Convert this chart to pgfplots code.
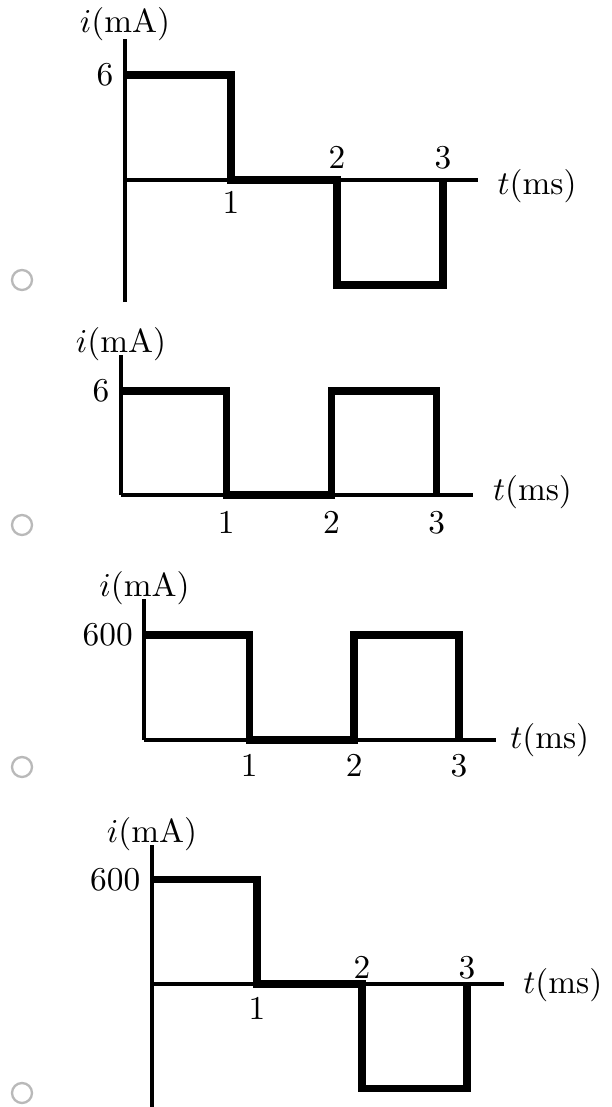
\documentclass[border=0pt]{standalone}
\usepackage{pgfplots}
\pgfplotsset{compat=1.18}
\pgfplotsset{
  wave/.style={
    axis lines=middle,
    axis line style={-, line width=1.2pt, black},
    every inner x axis line/.append style={-},
    every inner y axis line/.append style={-},
    major tick length=0pt,
    xmin=0, clip=false,
    anchor=south west,
    tick label style={font=\normalsize, black},
  },
  sig/.style={black, line width=2.2pt, line join=miter},
}
\begin{document}
\begin{tikzpicture}
\path[use as bounding box] (0,0) rectangle (183.3pt,-332.1pt);

% radio buttons
\foreach \yy in {-84pt,-157.5pt,-230.1pt,-327.9pt}{
  \draw[gray!55, line width=0.7pt, fill=white] (6.6pt,\yy) circle (3pt);
}

% Panel 1
\begin{axis}[wave, at={(37.5pt,-90.6pt)}, x=31.8pt, y=5.25pt,
  xmax=3.33, ymin=-6.97, ymax=8.06, ytick={6}, xtick={1},
  extra x ticks={2,3},
  extra x tick style={xticklabel style={anchor=south}}]
\addplot[sig] coordinates {(0,6) (1,6) (1,0) (2,0) (2,-6) (3,-6) (3,0)};
\node[anchor=base, inner sep=0pt, yshift=1.8pt] at (axis cs:0,8.06) {$i$(mA)};
\node[anchor=west, inner sep=0pt, xshift=5.7pt, yshift=-1.7pt] at (axis cs:3.33,0) {$t$(ms)};
\end{axis}

% Panel 2
\begin{axis}[wave, at={(36.3pt,-148.5pt)}, x=31.56pt, y=5.2pt,
  xmax=3.35, ymin=0, ymax=8.08, ytick={6}, xtick={1,2,3},
  xticklabel style={yshift=-1.5pt}]
\addplot[sig] coordinates {(0,6) (1,6) (1,0) (2,0) (2,6) (3,6) (3,0)};
\node[anchor=base, inner sep=0pt, yshift=0.6pt] at (axis cs:0,8.08) {$i$(mA)};
\node[anchor=west, inner sep=0pt, xshift=5.7pt, yshift=0.9pt] at (axis cs:3.35,0) {$t$(ms)};
\end{axis}

% Panel 3
\begin{axis}[wave, at={(43.35pt,-222pt)}, x=31.44pt, y=0.0525pt,
  xmax=3.35, ymin=0, ymax=806, ytick={600}, xtick={1,2,3},
  xticklabel style={yshift=-1pt}]
\addplot[sig] coordinates {(0,600) (1,600) (1,0) (2,0) (2,600) (3,600) (3,0)};
\node[anchor=base, inner sep=0pt, yshift=0.6pt] at (axis cs:0,806) {$i$(mA)};
\node[anchor=west, inner sep=0pt, xshift=4.2pt] at (axis cs:3.35,0) {$t$(ms)};
\end{axis}

% Panel 4
\begin{axis}[wave, at={(45.6pt,-332.1pt)}, x=31.5pt, y=0.05226pt,
  xmax=3.35, ymin=-706, ymax=798, ytick={600}, xtick={1},
  xticklabel style={yshift=-0.8pt},
  extra x ticks={2,3},
  extra x tick style={xticklabel style={anchor=south, yshift=-1pt}}]
\addplot[sig] coordinates {(0,600) (1,600) (1,0) (2,0) (2,-600) (3,-600) (3,0)};
\node[anchor=base, inner sep=0pt, yshift=0.9pt] at (axis cs:0,798) {$i$(mA)};
\node[anchor=west, inner sep=0pt, xshift=5.7pt, yshift=-0.3pt] at (axis cs:3.35,0) {$t$(ms)};
\end{axis}
\end{tikzpicture}
\end{document}
